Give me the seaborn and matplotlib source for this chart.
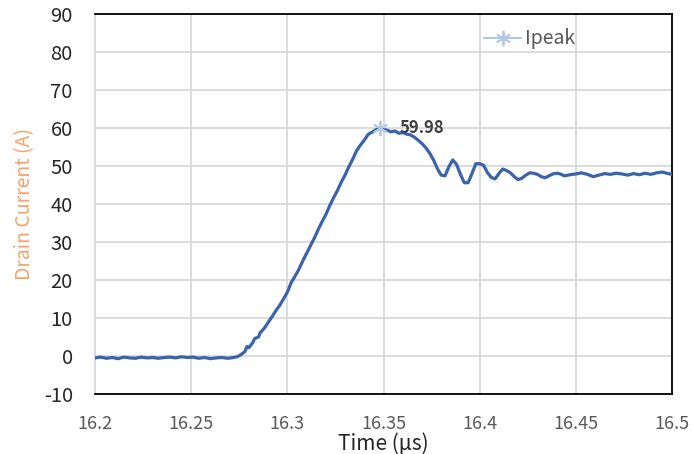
import matplotlib
matplotlib.use("Agg")
import matplotlib.pyplot as plt
import seaborn as sns
import pandas as pd

time_us = [16.200, 16.203, 16.206, 16.209, 16.212, 16.215, 16.218, 16.221, 16.224, 16.227,
           16.230, 16.233, 16.236, 16.239, 16.242, 16.245, 16.248, 16.251, 16.254, 16.257,
           16.260, 16.263, 16.266, 16.269, 16.272, 16.274,
           16.276, 16.278, 16.279, 16.280, 16.282, 16.283, 16.285, 16.286, 16.288, 16.290,
           16.292, 16.294, 16.296, 16.298, 16.300, 16.302, 16.304, 16.306, 16.308, 16.310,
           16.312, 16.314, 16.316, 16.318, 16.320, 16.322, 16.324, 16.326, 16.328, 16.330,
           16.332, 16.334, 16.336, 16.338, 16.340, 16.342, 16.344, 16.346, 16.348, 16.350,
           16.352, 16.354, 16.356, 16.358, 16.360, 16.362, 16.364, 16.366, 16.368, 16.370,
           16.372, 16.374, 16.376, 16.378, 16.380, 16.382, 16.384, 16.386, 16.388, 16.390,
           16.392, 16.394, 16.396, 16.398, 16.400, 16.402, 16.404, 16.406, 16.408, 16.410,
           16.412, 16.414, 16.416, 16.418, 16.420, 16.422, 16.424, 16.426, 16.428, 16.430,
           16.432, 16.434, 16.436, 16.438, 16.440, 16.442, 16.444, 16.446, 16.448, 16.450,
           16.453, 16.456, 16.459, 16.462, 16.465, 16.468, 16.471, 16.474, 16.477, 16.480,
           16.483, 16.486, 16.489, 16.492, 16.495, 16.498, 16.500]
drain_current = [-0.5, -0.3, -0.6, -0.4, -0.7, -0.3, -0.5, -0.6, -0.3, -0.5,
                 -0.4, -0.6, -0.4, -0.3, -0.5, -0.2, -0.4, -0.3, -0.6, -0.4,
                 -0.7, -0.5, -0.4, -0.6, -0.4, -0.2,
                 0.4, 1.2, 2.5, 2.2, 3.5, 4.6, 5.0, 6.2, 7.3, 8.8,
                 10.3, 11.9, 13.3, 15.0, 16.8, 19.3, 21.0, 22.8, 25.0, 27.0,
                 29.0, 31.0, 33.2, 35.3, 37.2, 39.5, 41.6, 43.5, 45.7, 47.6,
                 49.8, 51.8, 54.0, 55.5, 56.8, 58.3, 58.9, 59.5, 59.98, 59.6,
                 59.4, 59.0, 59.2, 58.6, 58.8, 58.4, 58.2, 57.6, 56.8, 55.9,
                 54.8, 53.4, 51.6, 49.3, 47.6, 47.4, 49.8, 51.6, 50.4, 47.8,
                 45.6, 45.6, 48.0, 50.6, 50.6, 50.2, 48.3, 47.0, 46.6, 48.0,
                 49.2, 48.8, 48.2, 47.2, 46.4, 46.8, 47.6, 48.2, 48.1, 47.8,
                 47.2, 46.9, 47.4, 47.9, 48.1, 47.9, 47.4, 47.6, 47.8, 47.9,
                 48.2, 47.8, 47.2, 47.6, 48.0, 47.8, 48.1, 47.9, 47.6, 48.0,
                 47.7, 48.1, 47.8, 48.2, 48.4, 48.0, 47.8]

peak_time = [16.348]
peak_value = [59.98]
peak_label = "59.98"

x_ticks = [16.2, 16.25, 16.3, 16.35, 16.4, 16.45, 16.5]
x_tick_labels = ["16.2", "16.25", "16.3", "16.35", "16.4", "16.45", "16.5"]
y_ticks = [-10, 0, 10, 20, 30, 40, 50, 60, 70, 80, 90]

sns.set_theme(style="white")
plt.rcParams['font.family'] = ['Noto Sans CJK SC', 'DejaVu Sans']
plt.rcParams['axes.unicode_minus'] = False

df = pd.DataFrame({"t": time_us, "i": drain_current})

fig = plt.figure(figsize=(6.92, 4.54), dpi=100)
ax = fig.add_axes([95/692, 1-394/454, 577/692, 380/454])

sns.lineplot(data=df, x="t", y="i", ax=ax, color="#3B63AC", linewidth=2.3, zorder=3)

ax.plot(peak_time, peak_value, linestyle="-", color="#B4C7E7", marker=(6, 2, 0),
        markersize=11, markeredgewidth=1.3, label="Ipeak", zorder=4)
ax.annotate(peak_label, (peak_time[0], peak_value[0]), xytext=(14, 0),
            textcoords="offset points", ha="left", va="center",
            fontsize=12, fontweight="bold", color="#404040", zorder=5)

ax.set_xlim(16.2, 16.5)
ax.set_ylim(-10, 90)
ax.set_xticks(x_ticks)
ax.set_xticklabels(x_tick_labels)
ax.set_yticks(y_ticks)

ax.grid(True, color="#D9D9D9", linewidth=1.3)
ax.set_axisbelow(True)

for s in ["top", "right", "bottom"]:
    ax.spines[s].set_color("black")
    ax.spines[s].set_linewidth(1.3)
ax.spines["left"].set_color("#D9D9D9")
ax.spines["left"].set_linewidth(1.3)

ax.tick_params(axis="y", length=0, pad=16, labelsize=14.5, labelcolor="#262626")
ax.tick_params(axis="x", length=0, pad=15, labelsize=13, labelcolor="#595959")

ax.set_xlabel("Time (µs)", fontsize=15, color="#262626", labelpad=0)
ax.set_ylabel("Drain Current (A)", fontsize=14, color="#F4A46C", labelpad=6)

leg = ax.legend(loc="upper left", bbox_to_anchor=(0.651, 0.998), frameon=False,
                fontsize=14, handlelength=1.9, handletextpad=0.2, borderaxespad=0.3)
for t in leg.get_texts():
    t.set_color("#595959")

fig.savefig("out.png", dpi=100)
